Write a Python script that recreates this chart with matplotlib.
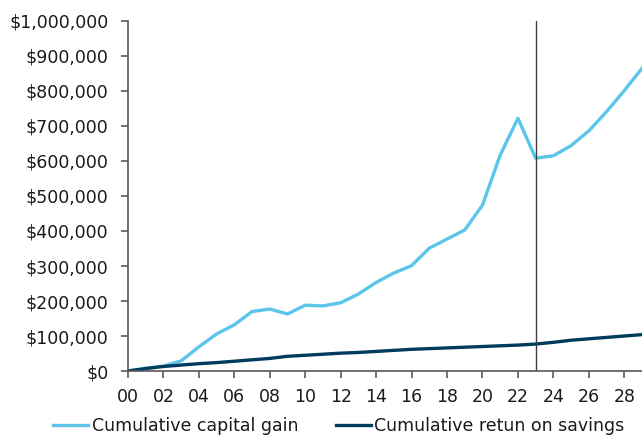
import matplotlib
matplotlib.use("Agg")
import matplotlib.pyplot as plt
from matplotlib.ticker import FuncFormatter

# years since 2000
years = list(range(0, 30))
capital_gain = [0, 8, 14, 29, 69, 106, 132, 170, 177, 163,
                188, 186, 195, 220, 253, 280, 301, 351, 377, 403,
                474, 617, 722, 608, 615, 644, 686, 741, 801, 865]
savings_return = [0, 7, 13, 17, 21, 24, 28, 32, 36, 42,
                  45, 48, 51, 53, 56, 59, 62, 64, 66, 68,
                  70, 72, 74, 77, 82, 88, 92, 96, 100, 104]
capital_gain = [v * 1000 for v in capital_gain]
savings_return = [v * 1000 for v in savings_return]
xtick_pos = list(range(0, 29, 2))
xtick_lab = ["%02d" % v for v in xtick_pos]
split_year = 23

light = "#5BC5EA"
dark = "#003A5D"
grey = "#595959"

fig = plt.figure(figsize=(6.42, 4.37), dpi=100)
ax = fig.add_axes([0.1994, 0.151, 0.8006, 0.801])

ax.plot(years, capital_gain, color=light, lw=2.4, label="Cumulative capital gain")
ax.plot(years, savings_return, color=dark, lw=2.4, label="Cumulative retun on savings")
ax.axvline(split_year, color="#404040", lw=1)

ax.set_xlim(0, 29)
ax.set_ylim(0, 1000000)
ax.set_yticks(range(0, 1000001, 100000))
ax.yaxis.set_major_formatter(FuncFormatter(lambda v, p: "${:,.0f}".format(v)))
ax.set_xticks(xtick_pos)
ax.set_xticklabels(xtick_lab)

for s in ["top", "right"]:
    ax.spines[s].set_visible(False)
for s in ["left", "bottom"]:
    ax.spines[s].set_color(grey)
    ax.spines[s].set_linewidth(1.2)
ax.tick_params(colors=grey, length=5, width=1.2, labelsize=12.5, labelcolor="#1a1a1a")
ax.tick_params(axis="y", pad=9)
ax.tick_params(axis="x", pad=7)

fig.legend(loc="center", bbox_to_anchor=(0.528, 0.025), ncol=2, frameon=False,
           fontsize=12.5, handlelength=2.0, handletextpad=0.2, columnspacing=2.2,
           labelcolor="#1a1a1a")

fig.savefig("out.png", dpi=100)
